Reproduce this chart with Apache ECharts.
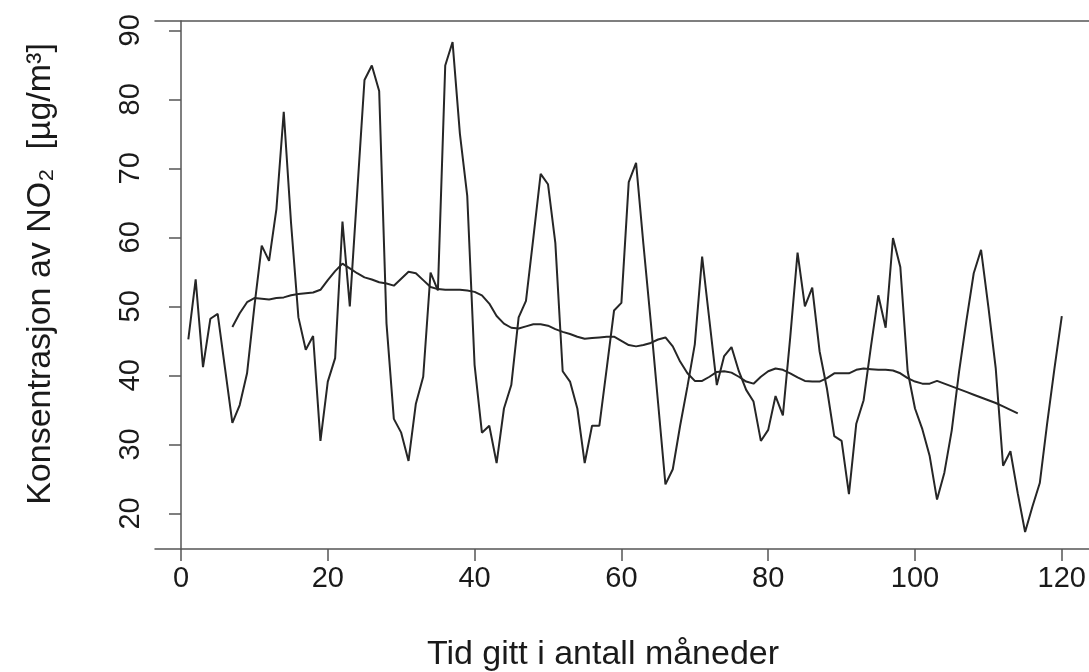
<!DOCTYPE html>
<html>
<head>
<meta charset="utf-8">
<script src="https://cdn.jsdelivr.net/npm/echarts@6/dist/echarts.min.js"></script>
<style>
  html, body { margin: 0; padding: 0; background: #ffffff; }
  #chart { width: 1089px; height: 672px; }
</style>
</head>
<body>
<div id="chart"></div>
<script>
// Monthly NO2 concentration, months 1..120
const no2 = [
  45.2, 53.9, 41.2, 48.2, 48.9, 41.0, 33.1, 35.7, 40.3, 50.0,
  58.8, 56.6, 64.1, 78.2, 62.0, 48.4, 43.7, 45.7, 30.5, 39.1,
  42.5, 62.3, 50.0, 66.4, 82.8, 84.9, 81.2, 47.5, 33.7, 31.7,
  27.6, 35.9, 39.8, 54.9, 52.3, 84.9, 88.3, 75.0, 66.0, 41.5,
  31.7, 32.7, 27.3, 35.2, 38.6, 48.4, 50.8, 59.9, 69.2, 67.7,
  59.2, 40.6, 39.1, 35.2, 27.3, 32.7, 32.7, 41.0, 49.4, 50.5,
  68.0, 70.8, 59.0, 47.8, 36.0, 24.2, 26.4, 32.7, 38.4, 44.5,
  57.2, 47.9, 38.6, 42.8, 44.1, 40.6, 37.9, 36.2, 30.5, 32.1,
  37.0, 34.2, 45.5, 57.8, 50.0, 52.7, 43.5, 38.1, 31.2, 30.5,
  22.8, 33.0, 36.4, 44.2, 51.6, 46.9, 59.9, 55.7, 40.6, 35.2,
  32.2, 28.3, 22.0, 25.9, 32.0, 40.5, 47.9, 54.8, 58.2, 49.9,
  41.0, 26.9, 29.0, 22.9, 17.3, 21.0, 24.4, 33.0, 41.0, 48.6
];

// Centred 12-month moving average, defined for months 7..114
const maFirstMonth = 7;
const movingAvg = [
  47.0, 49.0, 50.6, 51.2, 51.1, 51.0, 51.2, 51.3, 51.6, 51.8,
  51.9, 52.0, 52.4, 53.8, 55.1, 56.2, 55.5, 54.8, 54.2, 53.9,
  53.5, 53.3, 53.0, 54.0, 55.0, 54.8, 53.8, 52.8, 52.5, 52.4,
  52.4, 52.4, 52.3, 52.1, 51.6, 50.4, 48.6, 47.5, 46.9, 46.8,
  47.1, 47.4, 47.4, 47.2, 46.7, 46.3, 46.0, 45.6, 45.3, 45.4,
  45.5, 45.6, 45.6, 45.0, 44.4, 44.2, 44.4, 44.7, 45.2, 45.5,
  44.2, 42.0, 40.3, 39.2, 39.2, 39.8, 40.5, 40.6, 40.4, 39.8,
  39.1, 38.8, 39.8, 40.6, 41.0, 40.8, 40.3, 39.7, 39.2, 39.1,
  39.1, 39.6, 40.3, 40.3, 40.3, 40.8, 41.0, 40.9, 40.8, 40.8,
  40.7, 40.3, 39.6, 39.1, 38.8, 38.8, 39.2, 38.8, 38.4, 38.0,
  37.6, 37.2, 36.8, 36.4, 36.0, 35.5, 35.0, 34.5
];

const xTicks = [0, 20, 40, 60, 80, 100, 120];
const yTicks = [20, 30, 40, 50, 60, 70, 80, 90];

const xTitle = 'Tid gitt i antall måneder';
const yTitle = 'Konsentrasjon av NO\u2082  [\u00b5g/m\u00b3]';

const rawPoints = no2.map((v, i) => [i + 1, v]);
const maPoints = movingAvg.map((v, i) => [maFirstMonth + i, v]);

const FONT = '"Liberation Sans", Arial, Helvetica, sans-serif';
const INK = '#1a1a1a';
const LINE = '#262626';
const FRAME = '#555555';

const chart = echarts.init(document.getElementById('chart'), null, { renderer: 'canvas' });

chart.setOption({
  animation: false,
  backgroundColor: '#ffffff',
  grid: { left: 155, right: 0, top: 21, bottom: 123, show: false },
  xAxis: [
    {
      type: 'value',
      position: 'bottom',
      min: -3.54,
      max: 123.68,
      splitLine: { show: false },
      axisLine: { show: true, lineStyle: { color: FRAME, width: 1.5 } },
      axisTick: { show: true, customValues: xTicks, length: 12, lineStyle: { color: FRAME, width: 1.5 } },
      axisLabel: {
        show: true, customValues: xTicks, margin: 15,
        fontSize: 29, fontFamily: FONT, color: INK
      }
    },
    {
      type: 'value',
      position: 'top',
      min: -3.54,
      max: 123.68,
      splitLine: { show: false },
      axisLine: { show: true, lineStyle: { color: FRAME, width: 1.5 } },
      axisTick: { show: false },
      axisLabel: { show: false }
    }
  ],
  yAxis: {
    type: 'value',
    min: 14.84,
    max: 91.35,
    splitLine: { show: false },
    axisLine: { show: true, lineStyle: { color: FRAME, width: 1.5 } },
    axisTick: { show: true, customValues: yTicks, length: 12, lineStyle: { color: FRAME, width: 1.5 } },
    axisLabel: {
      show: true, customValues: yTicks, rotate: 90, margin: 10,
      fontSize: 29, fontFamily: FONT, color: INK
    }
  },
  graphic: [
    {
      type: 'text', x: 603, y: 655,
      style: {
        text: xTitle, fontSize: 34, fontFamily: FONT, fill: INK,
        textAlign: 'center', textVerticalAlign: 'middle'
      }
    },
    {
      type: 'text', x: 41, y: 274, rotation: Math.PI / 2,
      style: {
        text: yTitle, fontSize: 34, fontFamily: FONT, fill: INK,
        textAlign: 'center', textVerticalAlign: 'middle'
      }
    }
  ],
  series: [
    {
      name: 'NO2',
      type: 'line',
      data: rawPoints,
      showSymbol: false,
      symbol: 'none',
      lineStyle: { color: LINE, width: 2 },
      z: 3
    },
    {
      name: 'Glidende gjennomsnitt',
      type: 'line',
      data: maPoints,
      showSymbol: false,
      symbol: 'none',
      lineStyle: { color: LINE, width: 2 },
      z: 3
    }
  ]
});
</script>
</body>
</html>
